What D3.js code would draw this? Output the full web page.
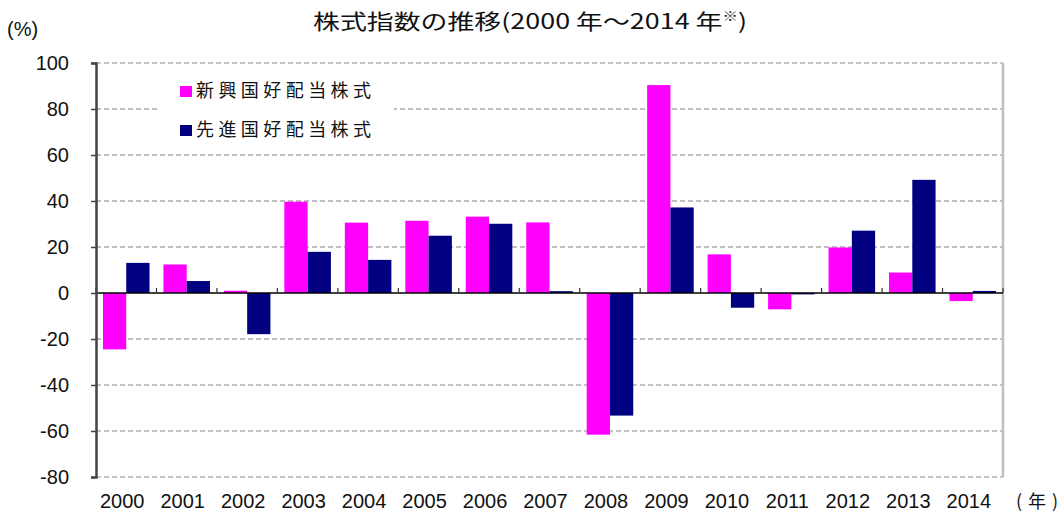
<!DOCTYPE html>
<html><head><meta charset="utf-8">
<script src="https://cdn.jsdelivr.net/npm/d3@7"></script>
<style>body{margin:0;background:#fff}svg{display:block}</style>
</head><body>
<svg id="c" width="1062" height="512"></svg>
<script>
const years = ["2000","2001","2002","2003","2004","2005","2006","2007","2008","2009","2010","2011","2012","2013","2014"];
const emerging = [-24.5,12.4,1.0,39.7,30.6,31.4,33.2,30.7,-61.6,90.4,16.8,-7.1,19.8,8.9,-3.5];
const developed = [13.1,5.2,-17.9,17.9,14.4,24.9,30.1,0.8,-53.3,37.2,-6.4,-0.6,27.1,49.2,0.9];
const seriesNames = ["新興国好配当株式","先進国好配当株式"];
const seriesColors = ["#ff00ff","#000080"];
const yTicks = [100,80,60,40,20,0,-20,-40,-60,-80];

const svg = d3.select("#c");
const L = 96, R = 1003, T = 63, B = 477;
const x0 = d3.scaleBand().domain(years).range([L, R]).paddingInner(0.23).paddingOuter(0.115);
const x1 = d3.scaleBand().domain([0,1]).range([0, x0.bandwidth()]);
const y = d3.scaleLinear().domain([-80, 100]).range([B, T]);
const font = "'Liberation Sans', Arial, sans-serif";
const cjk = "'Noto Sans CJK JP', sans-serif";

// grid
yTicks.filter(v => v !== 0).forEach(v => {
  const light = (v === 100 || v <= -40);
  svg.append("line").attr("x1", L).attr("x2", R).attr("y1", y(v)).attr("y2", y(v))
    .attr("stroke", light ? "#c4c4c4" : "#808080")
    .attr("stroke-width", light ? 2 : 1.2)
    .attr("stroke-dasharray", "5,3");
});
// right border
svg.append("line").attr("x1", R).attr("x2", R).attr("y1", T).attr("y2", B)
  .attr("stroke", "#c0c0c0").attr("stroke-width", 2.5);

// legend background
svg.append("rect").attr("x", 158).attr("y", 71).attr("width", 236).attr("height", 76).attr("fill", "#fff");

// bars
const data = years.map((yr, i) => ({yr, vals: [emerging[i], developed[i]]}));
const g = svg.append("g").selectAll("g").data(data).join("g")
  .attr("transform", d => `translate(${x0(d.yr)},0)`);
g.selectAll("rect").data(d => d.vals.map((v, k) => ({v, k}))).join("rect")
  .attr("x", d => x1(d.k)).attr("width", x1.bandwidth())
  .attr("y", d => y(Math.max(0, d.v)))
  .attr("height", d => Math.max(1, Math.abs(y(d.v) - y(0))))
  .attr("fill", d => seriesColors[d.k]);

// zero line and category ticks
svg.append("line").attr("x1", L).attr("x2", R).attr("y1", y(0)).attr("y2", y(0))
  .attr("stroke", "#000").attr("stroke-width", 1.5);
const step = x0.step();
d3.range(years.length + 1).forEach(i => {
  const xx = L + i * step;
  svg.append("line").attr("x1", xx).attr("x2", xx).attr("y1", y(0) - 5).attr("y2", y(0))
    .attr("stroke", "#333").attr("stroke-width", 1.2);
});

// left axis
const yAxis = d3.axisLeft(y).tickValues(yTicks).tickSize(5).tickPadding(22).tickFormat(d => String(d));
const ag = svg.append("g").attr("transform", `translate(${L},0)`).call(yAxis);
ag.select(".domain").attr("stroke", "#444").attr("stroke-width", 2.5);
ag.selectAll(".tick line").attr("stroke", "#444").attr("stroke-width", 1.5);
ag.selectAll(".tick text").attr("font-family", font).attr("font-size", 20).attr("fill", "#111").attr("dy", "0.3em");

// x labels
svg.append("g").selectAll("text").data(years).join("text")
  .attr("x", d => x0(d) + x0.bandwidth()/2 - 4).attr("y", 508)
  .attr("text-anchor", "middle").attr("font-family", font).attr("font-size", 20).attr("fill", "#111")
  .text(d => d);
svg.append("text").attr("x", 1016).attr("y", 508).attr("font-family", cjk).attr("font-size", 18)
  .attr("fill", "#111").attr("textLength", 42).attr("lengthAdjust", "spacing").text("(年)");

// legend
seriesNames.forEach((n, k) => {
  const yy = 86 + k * 39;
  svg.append("rect").attr("x", 180).attr("y", yy).attr("width", 12).attr("height", 11).attr("fill", seriesColors[k]);
  svg.append("text").attr("x", 196).attr("y", yy + 11).attr("font-family", cjk).attr("font-size", 18)
    .attr("fill", "#111").attr("textLength", 175).attr("lengthAdjust", "spacing").text(n);
});

// title
const t = svg.append("text").attr("x", 313).attr("y", 29).attr("font-family", cjk).attr("font-size", 21)
  .attr("fill", "#111").attr("textLength", 434).attr("lengthAdjust", "spacingAndGlyphs");
t.append("tspan").text("株式指数の推移(2000 年～2014 年");
t.append("tspan").attr("font-size", 12).attr("dy", -8).text("※");
t.append("tspan").attr("dy", 8).text(")");

svg.append("text").attr("x", 7).attr("y", 36).attr("font-family", font).attr("font-size", 20)
  .attr("fill", "#111").text("(%)");
</script>
</body></html>
